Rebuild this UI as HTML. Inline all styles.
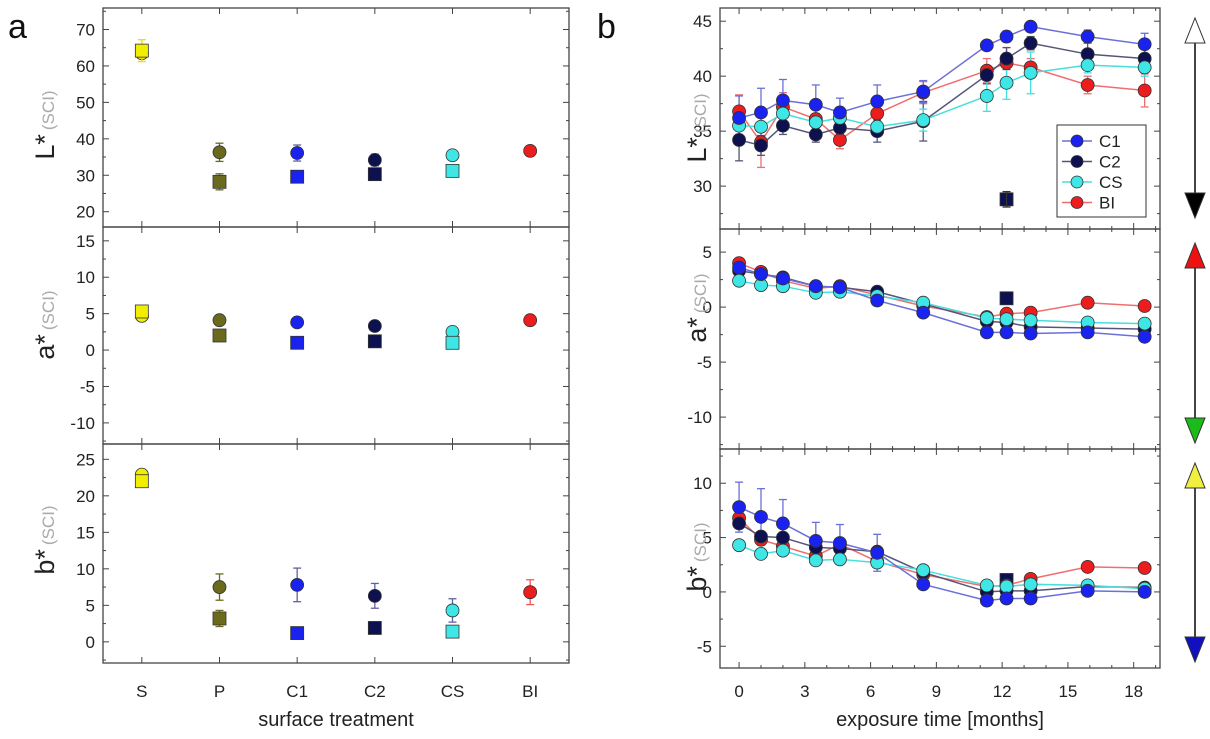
<!DOCTYPE html>
<html><head><meta charset="utf-8">
<style>
body{margin:0;background:#fff;}
svg{display:block;font-family:"Liberation Sans",Arial,sans-serif;}
</style></head>
<body>
<svg id="chart" width="1210" height="739" viewBox="0 0 1210 739">
<text x="8" y="38" font-size="34" fill="#111">a</text>
<text x="597" y="38" font-size="34" fill="#111">b</text>
</svg>
<script>
// ---------- Panel a data ----------
const catLabels = ["S","P","C1","C2","CS","BI"];
const catColors = ["#f2ee00","#6b6a1c","#1a22f0","#0e1150","#3ee6e6","#ee1d1d"];
const aLcirc = [63.5,36.3,36.1,34.2,35.5,36.7];
const aLcircErr = [1.2,2.5,2.2,1.6,0.8,1.0];
const aLsq = [64.2,28.2,29.6,30.3,31.2,null];
const aLsqErr = [3,2.2,0.5,0.8,0.9,0];
const aAcirc = [4.7,4.1,3.8,3.3,2.5,4.1];
const aAcircErr = [0.4,0.4,0.4,0.4,0.4,0.6];
const aAsq = [5.3,2.0,1.0,1.2,1.0,null];
const aAsqErr = [0.4,0.3,0.2,0.2,0.3,0];
const aBcirc = [22.9,7.5,7.8,6.3,4.3,6.8];
const aBcircErr = [0.5,1.8,2.3,1.7,1.6,1.7];
const aBsq = [22.0,3.2,1.2,1.9,1.4,null];
const aBsqErr = [0.5,1.1,0.3,0.3,0.3,0];
// ---------- Panel b data ----------
const times = [0,1,2,3.5,4.6,6.3,8.4,11.3,12.2,13.3,15.9,18.5];
const seriesNames = ["C1","C2","CS","BI"];
const seriesColors = ["#1a22f0","#0e1150","#3ee6e6","#ee1d1d"];
const lineColors = ["#6b70d8","#55557a","#48dede","#ef6f6f"];
const L_C1 = [36.2,36.7,37.8,37.4,36.7,37.7,38.6,42.8,43.6,44.5,43.6,42.9];
const L_C2 = [34.2,33.7,35.5,34.7,35.3,35.0,35.9,40.1,41.6,43.0,42.0,41.6];
const L_CS = [35.5,35.4,36.6,35.8,36.2,35.4,36.0,38.2,39.4,40.3,41.0,40.8];
const L_BI = [36.8,34.0,37.2,36.1,34.2,36.6,38.5,40.5,41.2,40.8,39.2,38.7];
const L_C1e = [2.0,2.2,1.9,1.8,1.3,1.5,1.0,0.2,0.5,0.2,0.6,1.0];
const L_C2e = [1.9,0.9,0.8,0.7,0.5,1.0,1.8,0.8,1.0,0.6,1.0,1.0];
const L_CSe = [0.8,1.0,0.7,0.5,0.4,0.9,1.0,1.4,1.5,1.9,0.7,0.8];
const L_BIe = [1.5,2.3,1.3,0.5,0.8,1.2,1.0,1.1,1.4,0.8,0.8,1.5];
const A_C1 = [3.6,3.0,2.6,1.9,1.8,0.6,-0.5,-2.3,-2.3,-2.4,-2.3,-2.7];
const A_C2 = [3.3,3.0,2.7,1.9,1.8,1.4,0.3,-1.3,-1.4,-1.8,-1.9,-2.0];
const A_CS = [2.4,2.0,1.9,1.3,1.4,1.0,0.4,-1.0,-1.1,-1.2,-1.4,-1.5];
const A_BI = [4.0,3.2,2.4,1.7,1.9,1.1,0.1,-0.9,-0.6,-0.5,0.4,0.1];
const B_C1 = [7.8,6.9,6.3,4.7,4.5,3.6,0.7,-0.8,-0.6,-0.6,0.1,0.0];
const B_C2 = [6.3,5.1,5.0,4.1,4.0,3.7,1.8,0.0,0.1,0.1,0.5,0.4];
const B_CS = [4.3,3.5,3.8,2.9,3.0,2.7,2.0,0.6,0.5,0.7,0.6,0.3];
const B_BI = [6.8,4.8,4.2,3.3,4.4,2.8,1.6,0.5,0.6,1.2,2.3,2.2];
const B_C1e = [2.3,2.6,2.2,1.7,1.7,1.7,0.3,0.2,0.2,0.2,0.2,0.3];
const outlierL = 28.8, outlierA = 0.8, outlierB = 1.1, outlierT = 12.2;
const xTicksB = [0,3,6,9,12,15,18];

const NS="http://www.w3.org/2000/svg";
const svg=document.getElementById('chart');
function mk(tag,attrs,parent){const e=document.createElementNS(NS,tag);for(const k in attrs)e.setAttribute(k,attrs[k]);(parent||svg).appendChild(e);return e;}
function lin(d0,d1,r0,r1){return v=>r0+(v-d0)*(r1-r0)/(d1-d0);}

function frame(x0,x1,y0,y1,name){
  const r=mk('rect',{x:x0,y:y0,width:x1-x0,height:y1-y0,fill:'none',stroke:'#444','stroke-width':1.3});
  
  
}
function yAxis(g,ys,x0,x1,d0,d1,major,minor,labelX,name){
  for(let v=Math.ceil(d1/minor)*minor; v<=d0+1e-9; v+=minor){
    const y=ys(v); const isMaj=Math.abs(v/major-Math.round(v/major))<1e-6;
    const L=isMaj?6:3;
    mk('line',{x1:x0,x2:x0+L,y1:y,y2:y,stroke:'#444','stroke-width':1},g);
    mk('line',{x1:x1,x2:x1-L,y1:y,y2:y,stroke:'#444','stroke-width':1},g);
    if(isMaj){
      const t=mk('text',{x:labelX,y:y+6,'text-anchor':'end','font-size':17,fill:'#222'},g);
      t.textContent=String(Math.round(v));
      
      
    }
  }
}
function yTitle(x,yc,main,name){
  const t=mk('text',{transform:`translate(${x},${yc}) rotate(-90)`,'text-anchor':'middle','font-size':27,fill:'#222'});
  
  
  const s1=mk('tspan',{},t); s1.textContent=main;
  const s2=mk('tspan',{'font-size':17,fill:'#aaa',dx:4},t); s2.textContent='(SCI)';
}
function circle(g,x,y,col,name){
  const c=mk('circle',{cx:x,cy:y,r:6.5,fill:col,stroke:'#333','stroke-width':0.8},g);
  
  
}
function square(g,x,y,col,name){
  const c=mk('rect',{x:x-6.5,y:y-6.5,width:13,height:13,fill:col,stroke:'#333','stroke-width':0.8},g);
  
  
}
function errbar(g,x,y,e,ys,col){
  if(!e) return;
  mk('line',{x1:x,x2:x,y1:ys(y-e),y2:ys(y+e),stroke:col,'stroke-width':1.3},g);
  mk('line',{x1:x-4,x2:x+4,y1:ys(y-e),y2:ys(y-e),stroke:col,'stroke-width':1.3},g);
  mk('line',{x1:x-4,x2:x+4,y1:ys(y+e),y2:ys(y+e),stroke:col,'stroke-width':1.3},g);
}

// ---------- Panel a ----------
const ax0=103, ax1=569;
const xa=lin(-0.5,5.5,ax0,ax1);
const panelsA=[
  {y0:8,y1:227,d0:75.9,d1:15.8,major:10,minor:5,circ:aLcirc,ce:aLcircErr,sq:aLsq,se:aLsqErr,title:'L*',nm:'a-lightness',tc:125},
  {y0:227,y1:444,d0:16.9,d1:-12.9,major:5,minor:2.5,circ:aAcirc,ce:aAcircErr,sq:aAsq,se:aAsqErr,title:'a*',nm:'a-redness',tc:325},
  {y0:444,y1:663,d0:27.1,d1:-2.9,major:5,minor:2.5,circ:aBcirc,ce:aBcircErr,sq:aBsq,se:aBsqErr,title:'b*',nm:'a-yellowness',tc:540}
];
panelsA.forEach(p=>{
  const g=mk('g',{});  
  const ys=lin(p.d0,p.d1,p.y0,p.y1);
  yAxis(g,ys,ax0,ax1,p.d0,p.d1,p.major,p.minor,ax0-8,p.nm+'-y');
  catLabels.forEach((c,i)=>{const x=xa(i);
    mk('line',{x1:x,x2:x,y1:p.y0,y2:p.y0+6,stroke:'#444'},g);
    mk('line',{x1:x,x2:x,y1:p.y1,y2:p.y1-6,stroke:'#444'},g);
  });
  yTitle(54,p.tc,p.title,p.nm+'-y-title');
  catLabels.forEach((c,i)=>{
    const x=xa(i);
    const ec=i===0?'#e8e000':(i===1?'#6b6a1c':(i===5?'#e55':'#6060a0'));
    errbar(g,x,p.circ[i],p.ce[i],ys,ec);
    circle(g,x,ys(p.circ[i]),catColors[i],p.nm+'-circle-'+c);
    if(p.sq[i]!=null){errbar(g,x,p.sq[i],p.se[i],ys,ec);
      square(g,x,ys(p.sq[i]),catColors[i],p.nm+'-square-'+c);}
  });
  frame(ax0,ax1,p.y0,p.y1,p.nm+'-frame');
});
catLabels.forEach((c,i)=>{
  const t=mk('text',{x:xa(i),y:697,'text-anchor':'middle','font-size':17,fill:'#222'});
  t.textContent=c;
  
  
});
{const t=mk('text',{x:336,y:726,'text-anchor':'middle','font-size':20,fill:'#222'});t.textContent='surface treatment';

}

// ---------- Panel b ----------
const bx0=720, bx1=1160;
const xb=lin(-0.87,19.2,bx0,bx1);
const panelsB=[
  {y0:8,y1:229,d0:46.2,d1:26.1,major:5,minor:2.5,data:[L_C1,L_C2,L_CS,L_BI],err:[L_C1e,L_C2e,L_CSe,L_BIe],out:outlierL,title:'L*',nm:'b-lightness',tc:128},
  {y0:229,y1:449,d0:7.1,d1:-12.9,major:5,minor:2.5,data:[A_C1,A_C2,A_CS,A_BI],err:null,out:outlierA,title:'a*',nm:'b-redness',tc:308},
  {y0:449,y1:668,d0:13.15,d1:-7.0,major:5,minor:2.5,data:[B_C1,B_C2,B_CS,B_BI],err:[B_C1e,null,null,null],out:outlierB,title:'b*',nm:'b-yellowness',tc:557}
];
panelsB.forEach(p=>{
  const g=mk('g',{});  
  const ys=lin(p.d0,p.d1,p.y0,p.y1);
  yAxis(g,ys,bx0,bx1,p.d0,p.d1,p.major,p.minor,bx0-8,p.nm+'-y');
  for(let t=0;t<=19;t++){const x=xb(t);const L=(t%3===0)?6:3;
    mk('line',{x1:x,x2:x,y1:p.y0,y2:p.y0+L,stroke:'#444'},g);
    mk('line',{x1:x,x2:x,y1:p.y1,y2:p.y1-L,stroke:'#444'},g);}
  yTitle(706,p.tc,p.title,p.nm+'-y-title');
  square(g,xb(outlierT),ys(p.out),'#0e1150',p.nm+'-outlier');
  if(p.nm==='b-lightness') errbar(g,xb(outlierT),p.out,0.7,ys,'#333');
  [3,1,2,0].forEach(si=>{
    const d=p.data[si];
    const pts=d.map((v,i)=>xb(times[i])+','+ys(v)).join(' ');
    const pl=mk('polyline',{points:pts,fill:'none',stroke:lineColors[si],'stroke-width':1.5},g);
    
    
  });
  [3,1,2,0].forEach(si=>{
    const d=p.data[si];
    d.forEach((v,i)=>{
      const e=p.err&&p.err[si]?p.err[si][i]:0.4;
      errbar(g,xb(times[i]),v,e,ys,lineColors[si]);
    });
  });
  [3,1,2,0].forEach(si=>{
    p.data[si].forEach((v,i)=>circle(g,xb(times[i]),ys(v),seriesColors[si],p.nm+'-point-'+seriesNames[si]));
  });
  frame(bx0,bx1,p.y0,p.y1,p.nm+'-frame');
});
xTicksB.forEach(t=>{
  const e=mk('text',{x:xb(t),y:697,'text-anchor':'middle','font-size':17,fill:'#222'});
  e.textContent=String(t);
  
  
});
{const t=mk('text',{x:940,y:726,'text-anchor':'middle','font-size':20,fill:'#222'});t.textContent='exposure time [months]';

}

// legend
{
  const g=mk('g',{});  
  mk('rect',{x:1057,y:125,width:89,height:92,fill:'#fff',stroke:'#333','stroke-width':1},g);
  seriesNames.forEach((n,i)=>{
    const y=141+i*20.5;
    const gi=mk('g',{},g);
    
    
    mk('line',{x1:1062,x2:1092,y1:y,y2:y,stroke:lineColors[i],'stroke-width':1.5},gi);
    mk('circle',{cx:1077,cy:y,r:6,fill:seriesColors[i],stroke:'#333','stroke-width':0.8},gi);
    const t=mk('text',{x:1099,y:y+6,'font-size':17,fill:'#222'},gi); t.textContent=n;
  });
}

// arrows
const arrows=[[18,218,'#ffffff','#000000'],[243,443,'#ee1111','#1bbb1b'],[463,662,'#f2ee40','#1010c0']];
arrows.forEach((a,i)=>{
  const g=mk('g',{});  
  const x=1195;
  mk('line',{x1:x,x2:x,y1:a[0]+20,y2:a[1]-20,stroke:'#444','stroke-width':2},g);
  mk('polygon',{points:`${x},${a[0]} ${x-10},${a[0]+25} ${x+10},${a[0]+25}`,fill:a[2],stroke:'#333','stroke-width':1},g);
  mk('polygon',{points:`${x},${a[1]} ${x-10},${a[1]-25} ${x+10},${a[1]-25}`,fill:a[3],stroke:'#333','stroke-width':1},g);
});
</script>
</body></html>
